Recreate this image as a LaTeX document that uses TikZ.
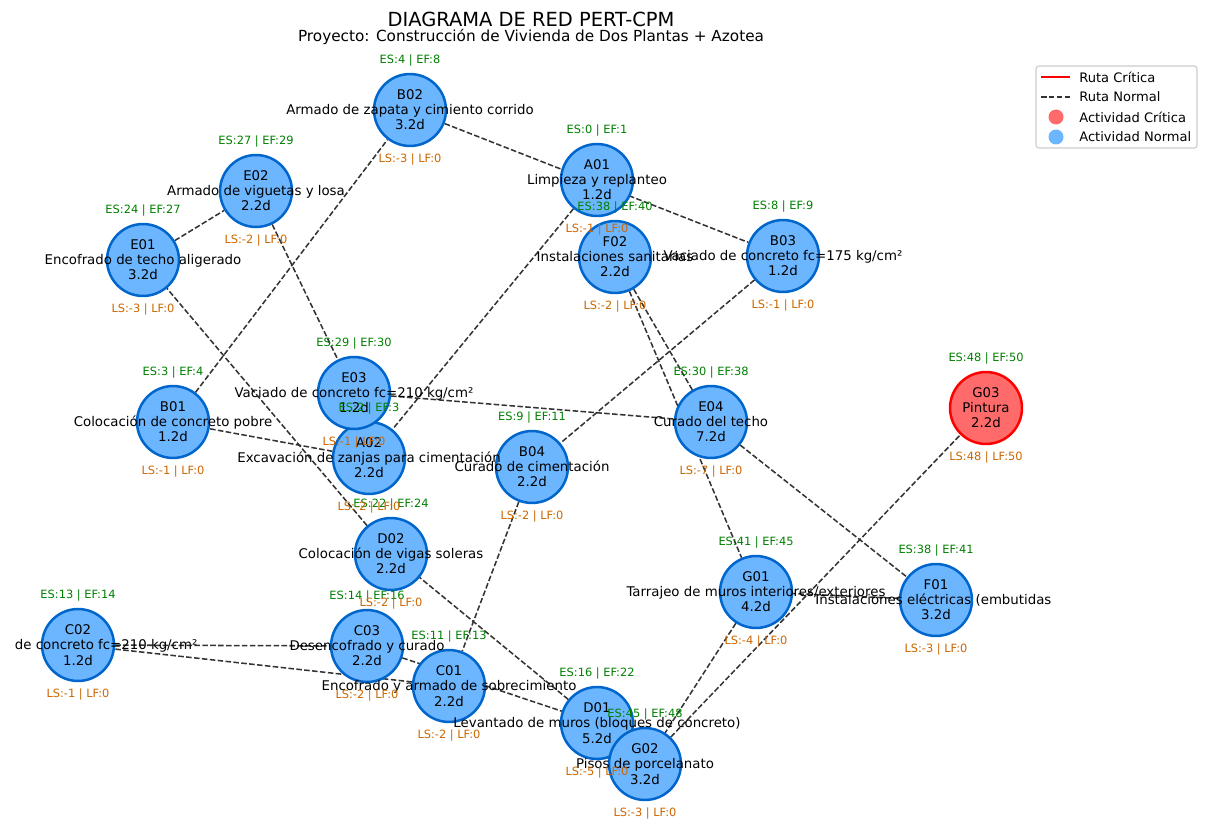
\documentclass[tikz,border=0pt]{standalone}
\usepackage{fontspec}
\setmainfont{DejaVu Sans}
\usetikzlibrary{positioning, backgrounds}

\definecolor{azulnodo}{RGB}{108,182,255}
\definecolor{azulborde}{RGB}{0,102,204}
\definecolor{rojonodo}{RGB}{255,107,107}
\definecolor{verdees}{RGB}{0,128,0}
\definecolor{naranjals}{RGB}{204,102,0}
\definecolor{grisruta}{RGB}{51,51,51}

\begin{document}
\begin{tikzpicture}[x=0.72pt, y=-0.72pt,
    % Styles
    actividad/.style={circle, draw=azulborde, fill=azulnodo, line width=1.8pt, minimum size=51.8pt, inner sep=0pt},
    critica/.style={actividad, draw=red, fill=rojonodo},
    nombre/.style={align=center, inner sep=0pt, font=\fontsize{9.6}{10.9}\selectfont},
    inicio/.style={inner sep=0pt, text=verdees, font=\fontsize{8.2}{9.8}\selectfont},
    holgura/.style={inner sep=0pt, text=naranjals, font=\fontsize{8.2}{9.8}\selectfont},
    ruta/.style={draw=grisruta, line width=1.1pt, dash pattern=on 4pt off 1.7pt},
    leyenda/.style={anchor=west, inner sep=0pt, font=\fontsize{9.4}{11}\selectfont},
]
\useasboundingbox (0,0) rectangle (1211,832);

% Title
\node[anchor=base, font=\fontsize{14}{17}\selectfont] (titulo) at (531,27) {DIAGRAMA DE RED PERT-CPM};
\node[anchor=base, font=\fontsize{11}{13}\selectfont] (subtitulo) at (531,42) {Proyecto: Construcción de Vivienda de Dos Plantas + Azotea};

% Activities
\node[actividad] (A01) at (597,180) {};
\node[actividad] (A02) at (369,458) {};
\node[actividad] (B01) at (173,422) {};
\node[actividad] (B02) at (410,110) {};
\node[actividad] (B03) at (783,256) {};
\node[actividad] (B04) at (532,467) {};
\node[actividad] (C01) at (449,686) {};
\node[actividad] (C02) at (78,645) {};
\node[actividad] (C03) at (367,646) {};
\node[actividad] (D01) at (597,723) {};
\node[actividad] (D02) at (391,554) {};
\node[actividad] (E01) at (143,260) {};
\node[actividad] (E02) at (256,191) {};
\node[actividad] (E03) at (354,393) {};
\node[actividad] (E04) at (711,422) {};
\node[actividad] (F01) at (936,600) {};
\node[actividad] (F02) at (615,257) {};
\node[actividad] (G01) at (756,592) {};
\node[actividad] (G02) at (645,764) {};
\node[critica] (G03) at (986,408) {};

% Connections
\begin{scope}[on background layer]
\draw[ruta] (A01) -- (A02);
\draw[ruta] (A02) -- (B01);
\draw[ruta] (B01) -- (B02);
\draw[ruta] (B02) -- (B03);
\draw[ruta] (B03) -- (B04);
\draw[ruta] (B04) -- (C01);
\draw[ruta] (C01) -- (C02);
\draw[ruta] (C02) -- (C03);
\draw[ruta] (C03) -- (D01);
\draw[ruta] (D01) -- (D02);
\draw[ruta] (D02) -- (E01);
\draw[ruta] (E01) -- (E02);
\draw[ruta] (E02) -- (E03);
\draw[ruta] (E03) -- (E04);
\draw[ruta] (E04) -- (F01);
\draw[ruta] (E04) -- (F02);
\draw[ruta] (F01) -- (G01);
\draw[ruta] (F02) -- (G01);
\draw[ruta] (G01) -- (G02);
\draw[ruta] (G02) -- (G03);
\end{scope}

% Names and durations
\begin{scope}
\clip (14,0) rectangle (1050,832);
\node[nombre] (A01-n) at (A01.center) {A01\\Limpieza y replanteo\\1.2d};
\node[nombre] (A02-n) at (A02.center) {A02\\Excavación de zanjas para cimentación\\2.2d};
\node[nombre] (B01-n) at (B01.center) {B01\\Colocación de concreto pobre\\1.2d};
\node[nombre] (B02-n) at (B02.center) {B02\\Armado de zapata y cimiento corrido\\3.2d};
\node[nombre] (B03-n) at (B03.center) {B03\\Vaciado de concreto fc=175 kg/cm²\\1.2d};
\node[nombre] (B04-n) at (B04.center) {B04\\Curado de cimentación\\2.2d};
\node[nombre] (C01-n) at (C01.center) {C01\\Encofrado y armado de sobrecimiento\\2.2d};
\node[nombre] (C02-n) at (C02.center) {C02\\Vaciado de concreto fc=210 kg/cm²\\1.2d};
\node[nombre] (C03-n) at (C03.center) {C03\\Desencofrado y curado\\2.2d};
\node[nombre] (D01-n) at (D01.center) {D01\\Levantado de muros (bloques de concreto)\\5.2d};
\node[nombre] (D02-n) at (D02.center) {D02\\Colocación de vigas soleras\\2.2d};
\node[nombre] (E01-n) at (E01.center) {E01\\Encofrado de techo aligerado\\3.2d};
\node[nombre] (E02-n) at (E02.center) {E02\\Armado de viguetas y losa\\2.2d};
\node[nombre] (E03-n) at (E03.center) {E03\\Vaciado de concreto fc=210 kg/cm²\\1.2d};
\node[nombre] (E04-n) at (E04.center) {E04\\Curado del techo\\7.2d};
\node[nombre] (F01-n) at (F01.center) {F01\\Instalaciones eléctricas (embutidas)\\3.2d};
\node[nombre] (F02-n) at (F02.center) {F02\\Instalaciones sanitarias\\2.2d};
\node[nombre] (G01-n) at (G01.center) {G01\\Tarrajeo de muros interiores/exteriores\\4.2d};
\node[nombre] (G02-n) at (G02.center) {G02\\Pisos de porcelanato\\3.2d};
\node[nombre] (G03-n) at (G03.center) {G03\\Pintura\\2.2d};
\end{scope}

% Early start / early finish
\node[inicio] (A01-es) at ([yshift=35.3pt]A01.center) {ES:0 | EF:1};
\node[inicio] (A02-es) at ([yshift=35.3pt]A02.center) {ES:2 | EF:3};
\node[inicio] (B01-es) at ([yshift=35.3pt]B01.center) {ES:3 | EF:4};
\node[inicio] (B02-es) at ([yshift=35.3pt]B02.center) {ES:4 | EF:8};
\node[inicio] (B03-es) at ([yshift=35.3pt]B03.center) {ES:8 | EF:9};
\node[inicio] (B04-es) at ([yshift=35.3pt]B04.center) {ES:9 | EF:11};
\node[inicio] (C01-es) at ([yshift=35.3pt]C01.center) {ES:11 | EF:13};
\node[inicio] (C02-es) at ([yshift=35.3pt]C02.center) {ES:13 | EF:14};
\node[inicio] (C03-es) at ([yshift=35.3pt]C03.center) {ES:14 | EF:16};
\node[inicio] (D01-es) at ([yshift=35.3pt]D01.center) {ES:16 | EF:22};
\node[inicio] (D02-es) at ([yshift=35.3pt]D02.center) {ES:22 | EF:24};
\node[inicio] (E01-es) at ([yshift=35.3pt]E01.center) {ES:24 | EF:27};
\node[inicio] (E02-es) at ([yshift=35.3pt]E02.center) {ES:27 | EF:29};
\node[inicio] (E03-es) at ([yshift=35.3pt]E03.center) {ES:29 | EF:30};
\node[inicio] (E04-es) at ([yshift=35.3pt]E04.center) {ES:30 | EF:38};
\node[inicio] (F01-es) at ([yshift=35.3pt]F01.center) {ES:38 | EF:41};
\node[inicio] (F02-es) at ([yshift=35.3pt]F02.center) {ES:38 | EF:40};
\node[inicio] (G01-es) at ([yshift=35.3pt]G01.center) {ES:41 | EF:45};
\node[inicio] (G02-es) at ([yshift=35.3pt]G02.center) {ES:45 | EF:48};
\node[inicio] (G03-es) at ([yshift=35.3pt]G03.center) {ES:48 | EF:50};

% Late start / late finish
\node[holgura] (A01-ls) at ([yshift=-35.3pt]A01.center) {LS:-1 | LF:0};
\node[holgura] (A02-ls) at ([yshift=-35.3pt]A02.center) {LS:-2 | LF:0};
\node[holgura] (B01-ls) at ([yshift=-35.3pt]B01.center) {LS:-1 | LF:0};
\node[holgura] (B02-ls) at ([yshift=-35.3pt]B02.center) {LS:-3 | LF:0};
\node[holgura] (B03-ls) at ([yshift=-35.3pt]B03.center) {LS:-1 | LF:0};
\node[holgura] (B04-ls) at ([yshift=-35.3pt]B04.center) {LS:-2 | LF:0};
\node[holgura] (C01-ls) at ([yshift=-35.3pt]C01.center) {LS:-2 | LF:0};
\node[holgura] (C02-ls) at ([yshift=-35.3pt]C02.center) {LS:-1 | LF:0};
\node[holgura] (C03-ls) at ([yshift=-35.3pt]C03.center) {LS:-2 | LF:0};
\node[holgura] (D01-ls) at ([yshift=-35.3pt]D01.center) {LS:-5 | LF:0};
\node[holgura] (D02-ls) at ([yshift=-35.3pt]D02.center) {LS:-2 | LF:0};
\node[holgura] (E01-ls) at ([yshift=-35.3pt]E01.center) {LS:-3 | LF:0};
\node[holgura] (E02-ls) at ([yshift=-35.3pt]E02.center) {LS:-2 | LF:0};
\node[holgura] (E03-ls) at ([yshift=-35.3pt]E03.center) {LS:-1 | LF:0};
\node[holgura] (E04-ls) at ([yshift=-35.3pt]E04.center) {LS:-7 | LF:0};
\node[holgura] (F01-ls) at ([yshift=-35.3pt]F01.center) {LS:-3 | LF:0};
\node[holgura] (F02-ls) at ([yshift=-35.3pt]F02.center) {LS:-2 | LF:0};
\node[holgura] (G01-ls) at ([yshift=-35.3pt]G01.center) {LS:-4 | LF:0};
\node[holgura] (G02-ls) at ([yshift=-35.3pt]G02.center) {LS:-3 | LF:0};
\node[holgura] (G03-ls) at ([yshift=-35.3pt]G03.center) {LS:48 | LF:50};

% Legend
\draw[black!20, line width=0.8pt, fill=white, rounded corners=2pt] (1036,66) rectangle (1197,148);
\draw[red, line width=1.8pt] (1041,77) -- (1070,77);
\draw[ruta] (1041,97) -- (1070,97);
\fill[rojonodo] (1056,117) circle (5.4pt);
\fill[azulnodo] (1056,137) circle (5.4pt);
\node[leyenda] (ley-critica) at (1079,77) {Ruta Crítica};
\node[leyenda] (ley-normal) at (1079,97) {Ruta Normal};
\node[leyenda] (ley-actcrit) at (1079,117) {Actividad Crítica};
\node[leyenda] (ley-actnorm) at (1079,137) {Actividad Normal};

\end{tikzpicture}
\end{document}
